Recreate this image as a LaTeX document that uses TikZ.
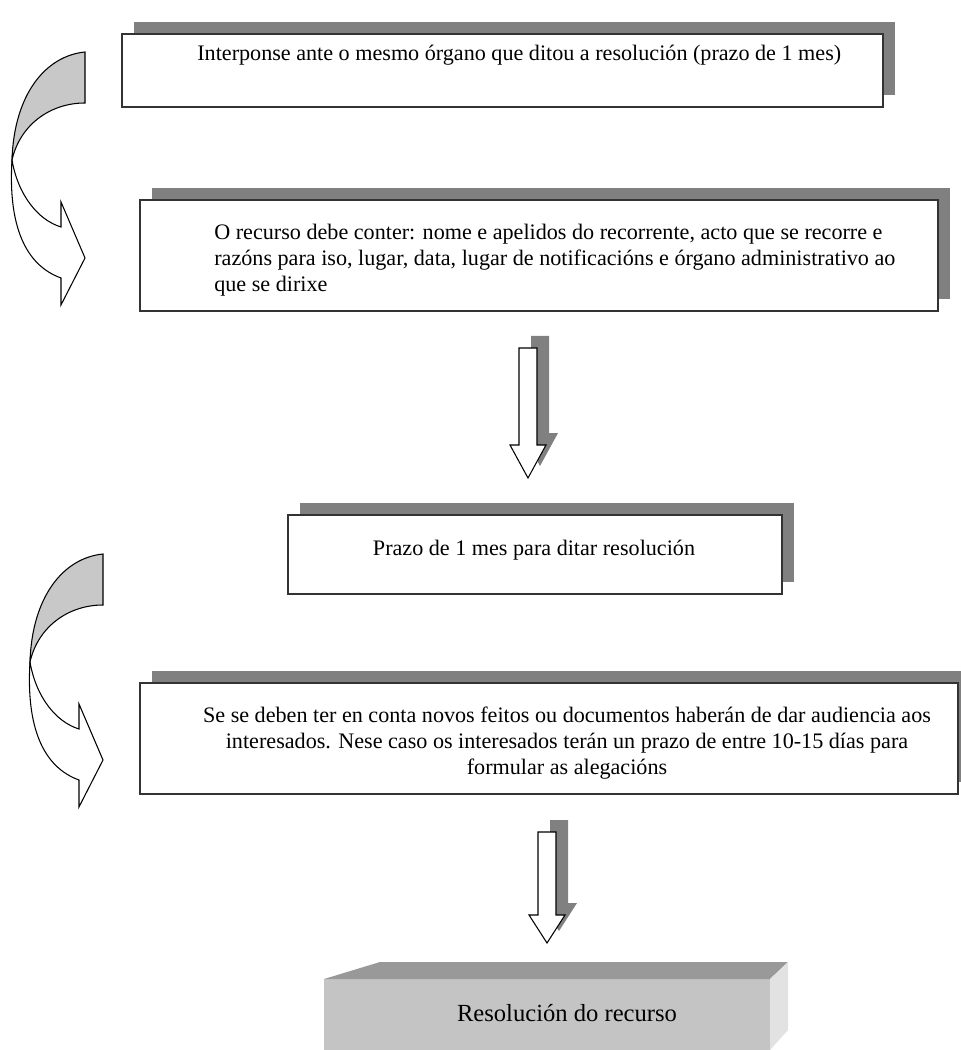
\documentclass[tikz,border=0pt]{standalone}
\usepackage{fontspec}
\setmainfont{Liberation Serif}
\usetikzlibrary{shadows}
\definecolor{shadowgray}{HTML}{808080}
\definecolor{backgray}{HTML}{C8C8C8}
\definecolor{boxfront}{HTML}{C4C4C4}
\definecolor{boxtop}{HTML}{999999}
\definecolor{boxside}{HTML}{E2E2E2}
\tikzset{
  stage/.style={draw=black!80, line width=0.9pt, fill=white, inner sep=0pt,
    general shadow={fill=shadowgray, draw=none, shadow xshift=0.24cm, shadow yshift=0.24cm}},
  txt/.style={inner sep=0pt, font=\fontsize{12.6}{14.8}\selectfont},
  outline/.style={draw=black, line width=0.6pt}
}
\begin{document}
\begin{tikzpicture}[x=0.02cm, y=-0.02cm]
\useasboundingbox[fill=white] (0,0) rectangle (960,1050);

% curved arrows on the left
\foreach \dx/\dy in {0/0, 18/502}{
  \begin{scope}[shift={(\dx,\dy)}]
    \draw[outline, fill=backgray] (85,52) .. controls (45,56) and (14,95) .. (12,160)
      .. controls (20,125) and (50,103) .. (85,103) -- cycle;
    \draw[outline, fill=white] (12,160) .. controls (18,195) and (38,220) .. (61,227)
      -- (61,202) -- (85,258) -- (61,305) -- (61,278)
      .. controls (25,265) and (8,225) .. (12,160) -- cycle;
  \end{scope}
}

% boxes
\node[stage, minimum width=15.22cm, minimum height=1.46cm] (interpon) at (502.5,70.5) {};
\node[stage, minimum width=15.96cm, minimum height=2.22cm] (contido) at (539,255.5) {};
\node[stage, minimum width=9.88cm, minimum height=1.58cm] (prazo) at (535,554.5) {};
\node[stage, minimum width=16.36cm, minimum height=2.22cm] (audiencia) at (549,738.5) {};

\node[txt, anchor=west] (t1) at (197,55) {Interponse ante o mesmo órgano que ditou a resolución (prazo de 1 mes)};
\node[txt, anchor=west, align=left] (t2) at (214,260) {O recurso debe conter: nome e apelidos do recorrente, acto que se recorre e\\
  razóns para iso, lugar, data, lugar de notificacións e órgano administrativo ao\\
  que se dirixe};
\node[txt] (t3) at (534,550) {Prazo de 1 mes para ditar resolución};
\node[txt, align=center] (t4) at (567,743) {Se se deben ter en conta novos feitos ou documentos haberán de dar audiencia aos\\
  interesados. Nese caso os interesados terán un prazo de entre 10-15 días para\\
  formular as alegacións};

% block arrows
\foreach \ax/\top/\base/\tip in {528/348/445/478, 547/832/915/943}{
  \fill[shadowgray, shift={(12,-12)}] (\ax-9,\top) -- (\ax+9,\top) -- (\ax+9,\base) -- (\ax+18,\base)
    -- (\ax,\tip) -- (\ax-18,\base) -- (\ax-9,\base) -- cycle;
  \draw[outline, fill=white] (\ax-9,\top) -- (\ax+9,\top) -- (\ax+9,\base) -- (\ax+18,\base)
    -- (\ax,\tip) -- (\ax-18,\base) -- (\ax-9,\base) -- cycle;
}

% final block
\fill[boxfront] (324,979) rectangle (770,1050);
\fill[boxtop] (324,979) -- (380,962) -- (788,962) -- (770,979) -- cycle;
\fill[boxside] (770,979) -- (788,962) -- (788,1030) -- (770,1050) -- cycle;
\node[inner sep=0pt, font=\fontsize{14}{16}\selectfont] (resol) at (567,1013) {Resolución do recurso};
\end{tikzpicture}
\end{document}
